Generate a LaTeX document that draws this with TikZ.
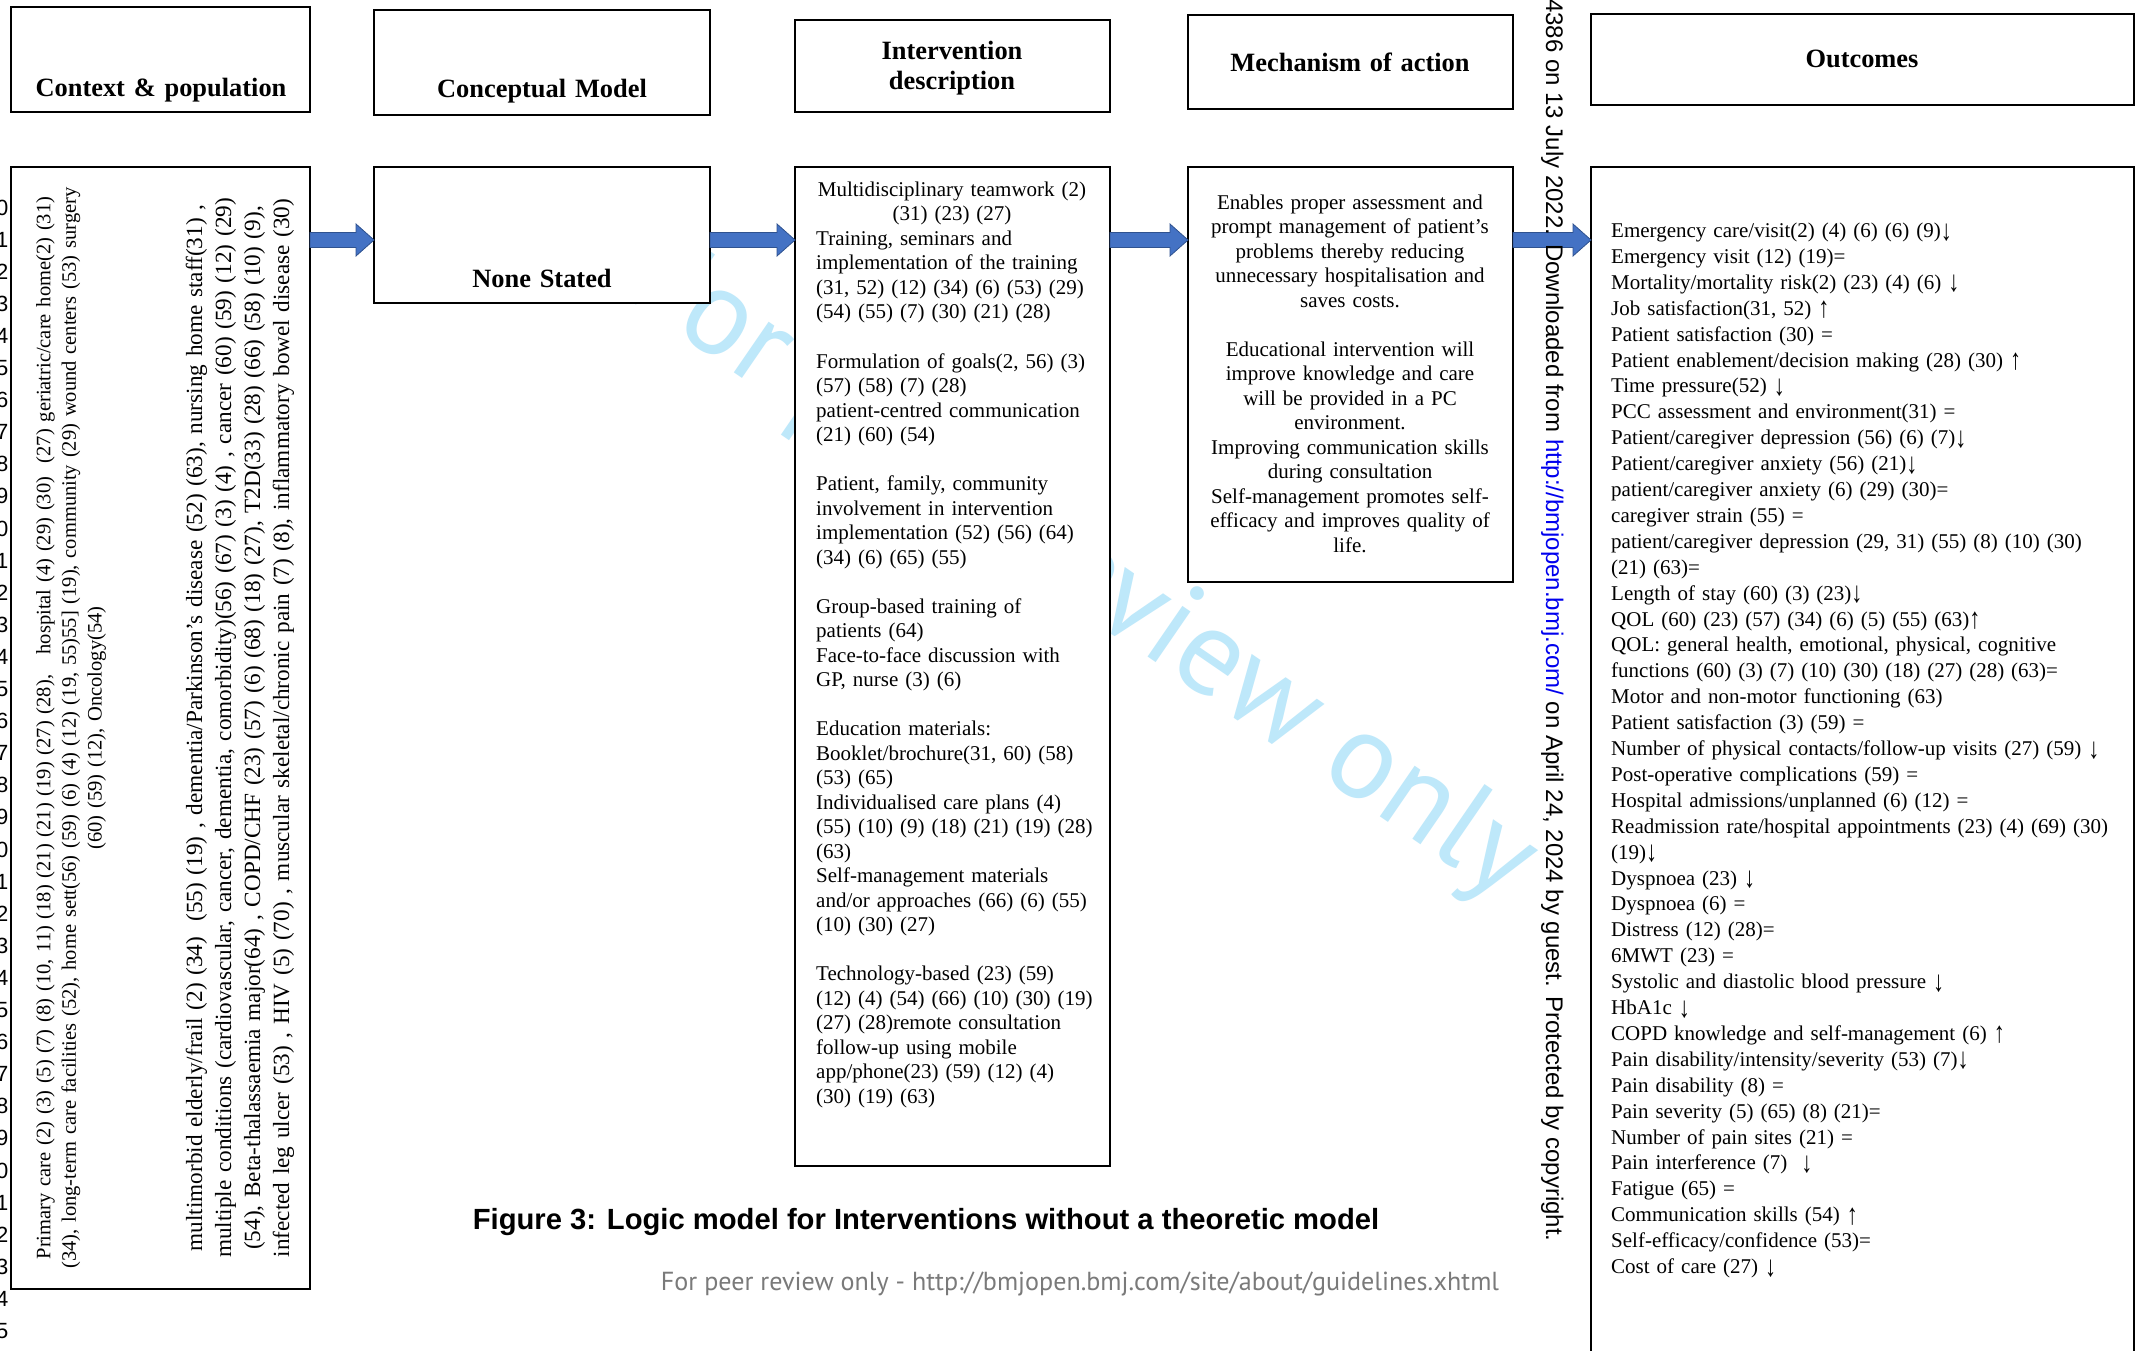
\documentclass[tikz,border=0pt]{standalone}
\usepackage{fontspec}
\usepackage{graphicx}
\setmainfont{Liberation Serif}
\newfontfamily\arialfont{Liberation Sans}
\newfontfamily\humanistfont{PT Sans}
\usetikzlibrary{calc}
\definecolor{arrowblue}{HTML}{4472C4}
\definecolor{arrowedge}{HTML}{2F528F}
\definecolor{wmblue}{RGB}{190,232,250}
\definecolor{footgray}{HTML}{7A7A7A}
\definecolor{linkblue}{HTML}{0000EE}
% taller trend arrows for the outcome list
\newcommand\trdown{\raisebox{-0.12em}{\scalebox{1.05}[1.4]{↓}}}
\newcommand\trup{\raisebox{-0.12em}{\scalebox{1.05}[1.4]{↑}}}

\begin{document}
\begin{tikzpicture}[x=1pt,y=-1pt,
  panel/.style={draw=black, line width=2.6pt, fill=white, inner sep=0pt, outer sep=0pt, anchor=north west},
  headtext/.style={font=\fontsize{26.4}{30}\selectfont\bfseries, inner sep=0pt, text width=320pt, align=center, anchor=base},
  bodytext/.style={font=\fontsize{21}{24.5}\selectfont, inner sep=0pt},
  sidetext/.style={font=\fontsize{20.5}{25.6}\selectfont, inner sep=0pt, text width=1150pt, align=center, rotate=90},
  linenum/.style={font=\arialfont\fontsize{22}{26}\selectfont, inner sep=0pt, anchor=base east},
  flowarrow/.style={fill=arrowblue, draw=arrowedge, line width=0.8pt,
    to path={let \p1=(\tikztostart), \p2=(\tikztotarget) in
      (\x1,\y1+7.5pt) -- (\x2-18pt,\y1+7.5pt) -- (\x2-18pt,\y1+16pt) -- (\x2,\y1)
      -- (\x2-18pt,\y1-16pt) -- (\x2-18pt,\y1-7.5pt) -- (\x1,\y1-7.5pt) -- cycle}},
]
\useasboundingbox (0,0) rectangle (2141,1351);
\fill[white] (0,0) rectangle (2141,1351);

% diagonal watermark behind the panels
\node[font=\humanistfont\fontsize{123}{133}\selectfont, text=wmblue, rotate=-34.5, anchor=base, inner sep=0pt] (watermark) at (1062,598) {For peer review only};

% line numbers in the page margin
\foreach \n [count=\k from 0] in {10,...,45}
  \node[linenum] (ln\n) at (8.5,215+32.1*\k) {\n};

% column headings
\node[panel, minimum width=299pt, minimum height=105pt] (ctxhead) at (11,7) {};
\node[panel, minimum width=336pt, minimum height=105pt] (cmhead) at (374,10) {};
\node[panel, minimum width=315pt, minimum height=92pt] (ivhead) at (795,20) {};
\node[panel, minimum width=325pt, minimum height=94pt] (mechead) at (1188,15) {};
\node[panel, minimum width=543pt, minimum height=91pt] (outhead) at (1591,14) {};

\node[headtext] (ctxtitle) at (161,97) {Context \& population};
\node[headtext] (cmtitle) at (542,98) {Conceptual Model};
\node[headtext] (ivtitle) at (952,60) {Intervention\\description};
\node[headtext] (mectitle) at (1350,72) {Mechanism of action};
\node[headtext] (outtitle) at (1862,68) {Outcomes};

% column bodies
\node[panel, minimum width=299pt, minimum height=1122pt] (ctxbody) at (11,167) {};
\node[panel, minimum width=336pt, minimum height=136pt] (cmbody) at (374,167) {};
\node[panel, minimum width=315pt, minimum height=999pt] (ivbody) at (795,167) {};
\node[panel, minimum width=325pt, minimum height=415pt] (mecbody) at (1188,167) {};
\node[panel, minimum width=543pt, minimum height=1200pt] (outbody) at (1591,167) {};

% connectors between the columns
\coordinate (arrowrow) at (0,240);
\path[flowarrow] (ctxbody.east |- arrowrow) to (cmbody.west |- arrowrow);
\path[flowarrow] (cmbody.east |- arrowrow) to (ivbody.west |- arrowrow);
\path[flowarrow] (ivbody.east |- arrowrow) to (mecbody.west |- arrowrow);
\path[flowarrow] (mecbody.east |- arrowrow) to (outbody.west |- arrowrow);

% context and population (rotated)
\node[sidetext] (setting) at (71,728) {Primary care (2) (3) (5) (7) (8) (10, 11) (18) (21) (21) (19) (27) (28),~~ hospital (4) (29) (30)~ (27) geriatric/care home(2) (31)\\
(34), long-term care facilities (52), home sett(56) (59) (6) (4) (12) (19, 55)55] (19), community (29) wound centers (53) surgery\\
(60) (59) (12), Oncology(54)};
\node[sidetext, font=\fontsize{23.2}{29}\selectfont] (population) at (240,728) {multimorbid elderly/frail (2) (34)~ (55) (19) , dementia/Parkinson's disease (52) (63), nursing home staff(31) ,\\
multiple conditions (cardiovascular, cancer, dementia, comorbidity)(56) (67) (3) (4) , cancer (60) (59) (12) (29)\\
(54), Beta-thalassaemia major(64) , COPD/CHF (23) (57) (6) (68) (18) (27), T2D(33) (28) (66) (58) (10) (9),\\
infected leg ulcer (53) , HIV (5) (70) , muscular skeletal/chronic pain (7) (8), inflammatory bowel disease (30)};

% conceptual model
\node[headtext] (nonestated) at (542,287) {None Stated};

% intervention description
\node[bodytext, text width=300pt, align=center, anchor=base] (ivlead) at (952,196.5) {Multidisciplinary teamwork (2)\\(31) (23) (27)};
\node[bodytext, text width=285pt, align=left, anchor=base west] (ivlist) at (816,245.5) {Training, seminars and\\
implementation of the training\\
(31, 52) (12) (34) (6) (53) (29)\\
(54) (55) (7) (30) (21) (28)\\[24.5pt]
Formulation of goals(2, 56) (3)\\
(57) (58) (7) (28)\\
patient-centred communication\\
(21) (60) (54)\\[24.5pt]
Patient, family, community\\
involvement in intervention\\
implementation (52) (56) (64)\\
(34) (6) (65) (55)\\[24.5pt]
Group-based training of\\
patients (64)\\
Face-to-face discussion with\\
GP, nurse (3) (6)\\[24.5pt]
Education materials:\\
Booklet/brochure(31, 60) (58)\\
(53) (65)\\
Individualised care plans (4)\\
(55) (10) (9) (18) (21) (19) (28)\\
(63)\\
Self-management materials\\
and/or approaches (66) (6) (55)\\
(10) (30) (27)\\[24.5pt]
Technology-based (23) (59)\\
(12) (4) (54) (66) (10) (30) (19)\\
(27) (28)remote consultation\\
follow-up using mobile\\
app/phone(23) (59) (12) (4)\\
(30) (19) (63)};

% mechanism of action
\node[bodytext, text width=320pt, align=center, anchor=base] (mectext) at (1350,209.5) {Enables proper assessment and\\
prompt management of patient’s\\
problems thereby reducing\\
unnecessary hospitalisation and\\
saves costs.\\[24.5pt]
Educational intervention will\\
improve knowledge and care\\
will be provided in a PC\\
environment.\\
Improving communication skills\\
during consultation\\
Self-management promotes self-\\
efficacy and improves quality of\\
life.};

% outcomes
\node[bodytext, font=\fontsize{21}{25.9}\selectfont, text width=515pt, align=left, anchor=base west] (outtext) at (1611,237.5) {Emergency care/visit(2) (4) (6) (6) (9)\trdown\\
Emergency visit (12) (19)=\\
Mortality/mortality risk(2) (23) (4) (6) \trdown\\
Job satisfaction(31, 52) \trup\\
Patient satisfaction (30) =\\
Patient enablement/decision making (28) (30) \trup\\
Time pressure(52) \trdown\\
PCC assessment and environment(31) =\\
Patient/caregiver depression (56) (6) (7)\trdown\\
Patient/caregiver anxiety (56) (21)\trdown\\
patient/caregiver anxiety (6) (29) (30)=\\
caregiver strain (55) =\\
patient/caregiver depression (29, 31) (55) (8) (10) (30)\\
(21) (63)=\\
Length of stay (60) (3) (23)\trdown\\
QOL (60) (23) (57) (34) (6) (5) (55) (63)\trup\\
QOL: general health, emotional, physical, cognitive\\
functions (60) (3) (7) (10) (30) (18) (27) (28) (63)=\\
Motor and non-motor functioning (63)\\
Patient satisfaction (3) (59) =\\
Number of physical contacts/follow-up visits (27) (59) \trdown\\
Post-operative complications (59) =\\
Hospital admissions/unplanned (6) (12) =\\
Readmission rate/hospital appointments (23) (4) (69) (30)\\
(19)\trdown\\
Dyspnoea (23) \trdown\\
Dyspnoea (6) =\\
Distress (12) (28)=\\
6MWT (23) =\\
Systolic and diastolic blood pressure \trdown\\
HbA1c \trdown\\
COPD knowledge and self-management (6) \trup\\
Pain disability/intensity/severity (53) (7)\trdown\\
Pain disability (8) =\\
Pain severity (5) (65) (8) (21)=\\
Number of pain sites (21) =\\
Pain interference (7)~ \trdown\\
Fatigue (65) =\\
Communication skills (54) \trup\\
Self-efficacy/confidence (53)=\\
Cost of care (27) \trdown};

% caption and page footer
\node[font=\arialfont\bfseries\fontsize{29.2}{34}\selectfont, inner sep=0pt, anchor=base] (caption) at (926,1229) {Figure 3: Logic model for Interventions without a theoretic model};
\node[font=\humanistfont\fontsize{26.1}{31}\selectfont, text=footgray, inner sep=0pt, anchor=base] (footer) at (1080,1290) {For peer review only - http://bmjopen.bmj.com/site/about/guidelines.xhtml};

% download notice along the page edge
\node[font=\arialfont\fontsize{24}{28}\selectfont, rotate=-90, anchor=base west, inner sep=0pt] (notice) at (1546,-1) {4386 on 13 July 2022. Downloaded from \textcolor{linkblue}{http://bmjopen.bmj.com/} on April 24, 2024 by guest. Protected by copyright.};
\end{tikzpicture}
\end{document}
